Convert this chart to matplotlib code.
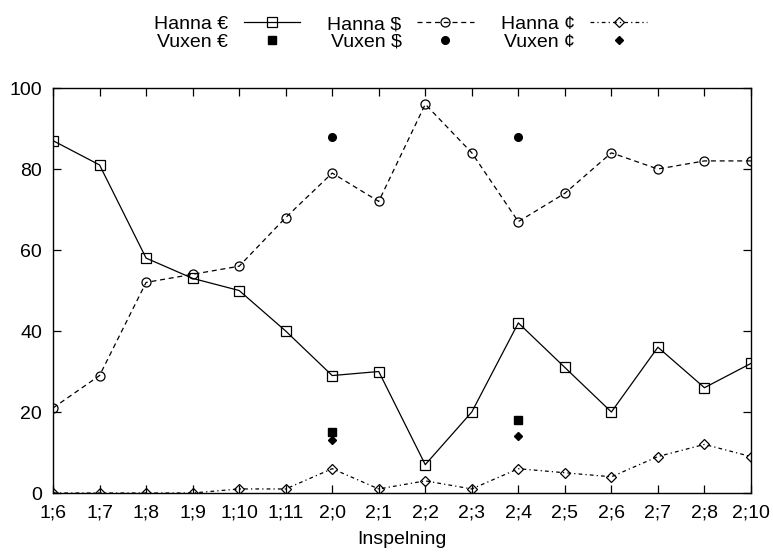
import numpy as np
import matplotlib.pyplot as plt

plt.rcParams['font.family'] = ['Liberation Sans', 'DejaVu Sans']

# recording sessions (age year;month)
sessions = ['1;6', '1;7', '1;8', '1;9', '1;10', '1;11', '2;0', '2;1',
            '2;2', '2;3', '2;4', '2;5', '2;6', '2;7', '2;8', '2;10']

hanna_euro = [87, 81, 58, 53, 50, 40, 29, 30, 7, 20, 42, 31, 20, 36, 26, 32]
hanna_dollar = [21, 29, 52, 54, 56, 68, 79, 72, 96, 84, 67, 74, 84, 80, 82, 82]
hanna_cent = [0, 0, 0, 0, 1, 1, 6, 1, 3, 1, 6, 5, 4, 9, 12, 9]

# adult values only at two sessions
vuxen_sessions = ['2;0', '2;4']
vuxen_euro = [15, 18]
vuxen_dollar = [88, 88]
vuxen_cent = [13, 14]

x = np.arange(len(sessions))
xv = [sessions.index(s) for s in vuxen_sessions]

fig = plt.figure(figsize=(7.73, 5.56), dpi=100)
ax = fig.add_axes([0.0686, 0.1133, 0.9029, 0.7284])

lw = 0.9
h1, = ax.plot(x, hanna_euro, '-', color='black', lw=lw, marker='s', ms=7,
              mfc='none', mec='black', mew=0.9, label='Hanna €')
h2, = ax.plot(x, hanna_dollar, color='black', lw=lw, dashes=(4, 3), marker='o',
              ms=6.5, mfc='none', mec='black', mew=0.9, label='Hanna $')
h3, = ax.plot(x, hanna_cent, color='black', lw=lw, dashes=(3, 2.5, 1, 2.5),
              marker='D', ms=5, mfc='none', mec='black', mew=0.9, label='Hanna ¢')

v1, = ax.plot(xv, vuxen_euro, 's', color='black', ms=5.5, ls='none', label='Vuxen €')
v2, = ax.plot(xv, vuxen_dollar, 'o', color='black', ms=5.5, ls='none', label='Vuxen $')
v3, = ax.plot(xv, vuxen_cent, 'D', color='black', ms=4, ls='none', label='Vuxen ¢')

ax.set_xlim(0, len(sessions) - 1)
ax.set_ylim(0, 100)
ax.set_xticks(x)
ax.set_xticklabels(sessions)
ax.set_yticks(np.arange(0, 101, 20))
ax.tick_params(direction='in', length=6, width=0.9, top=True, right=True,
               labelsize=14, pad=8, color='black')
for sp in ax.spines.values():
    sp.set_linewidth(1.0)
ax.set_xlabel('Inspelning', fontsize=14, labelpad=7)

fig.legend(handles=[h1, v1, h2, v2, h3, v3], ncol=3, loc='upper center',
           bbox_to_anchor=(0.518, 1.0), frameon=False, markerfirst=False,
           fontsize=14, handlelength=2.9, handletextpad=0.8, columnspacing=1.4,
           labelspacing=0.0, borderaxespad=0.4)

fig.savefig('out.png', dpi=100)
